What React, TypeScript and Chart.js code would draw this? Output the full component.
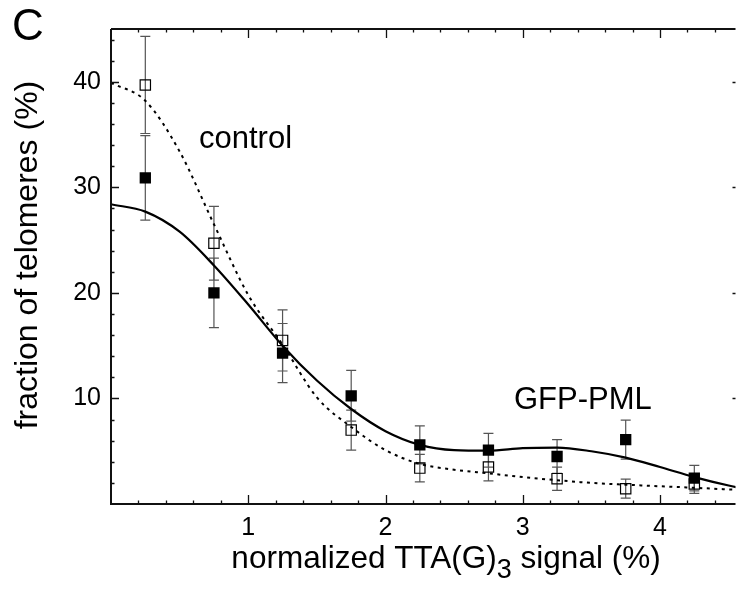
import React, { useEffect, useRef } from 'react';
import { Chart, registerables } from 'chart.js';

Chart.register(...registerables);

// ---- data ----
const binCenters = [0.25, 0.75, 1.25, 1.75, 2.25, 2.75, 3.25, 3.75, 4.25];
const gfpValues = [30.9, 20.0, 14.3, 10.25, 5.6, 5.1, 4.5, 6.1, 2.45];
const gfpErrors = [4.0, 3.3, 2.8, 2.4, 1.8, 1.6, 1.6, 1.85, 1.2];
const controlValues = [39.7, 24.7, 15.5, 7.0, 3.4, 3.5, 2.4, 1.45, 1.9];
const controlErrors = [4.6, 3.5, 2.9, 1.9, 1.3, 1.3, 1.1, 0.9, 0.9];

const fitX = [0, 0.25, 0.5, 0.75, 1, 1.25, 1.5, 1.75, 2, 2.25, 2.5, 2.75, 3, 3.25, 3.5, 3.75, 4, 4.25, 4.5, 4.75];
const gfpFit = [28.4, 27.7, 25.8, 22.6, 18.9, 15.0, 11.7, 9.0, 6.9, 5.6, 5.1, 5.05, 5.3, 5.35, 5.0, 4.4, 3.5, 2.55, 1.75, 1.1];
const controlFit = [39.9, 38.2, 33.4, 26.5, 19.8, 15.1, 10.1, 7.3, 5.1, 3.8, 3.25, 2.9, 2.55, 2.25, 2.0, 1.83, 1.68, 1.54, 1.38, 1.25];

const xTickLabels = ['1', '2', '3', '4'];
const yTickLabels = ['10', '20', '30', '40'];

const FONT = '"Liberation Sans", Arial, Helvetica, sans-serif';

export default function App() {
  const ref = useRef<HTMLCanvasElement>(null);

  useEffect(() => {
    document.body.style.margin = '0';
    const canvas = ref.current;
    if (!canvas) return;

    const errorBars = {
      id: 'errorBars',
      beforeDatasetsDraw(chart: any) {
        const { ctx, scales } = chart;
        const x = scales.x;
        const y = scales.y;
        ctx.save();
        ctx.strokeStyle = '#555';
        ctx.lineWidth = 1.2;
        const draw = (vals: number[], errs: number[]) => {
          vals.forEach((v, i) => {
            const px = x.getPixelForValue(binCenters[i]);
            const y1 = y.getPixelForValue(v + errs[i]);
            const y2 = y.getPixelForValue(v - errs[i]);
            ctx.beginPath();
            ctx.moveTo(px, y1);
            ctx.lineTo(px, y2);
            ctx.moveTo(px - 5, y1);
            ctx.lineTo(px + 5, y1);
            ctx.moveTo(px - 5, y2);
            ctx.lineTo(px + 5, y2);
            ctx.stroke();
          });
        };
        draw(controlValues, controlErrors);
        draw(gfpValues, gfpErrors);
        ctx.restore();
      },
    };

    const frame = {
      id: 'frame',
      afterDraw(chart: any) {
        const { ctx, chartArea, scales } = chart;
        const { left, right, top, bottom } = chartArea;
        const x = scales.x;
        const y = scales.y;
        ctx.save();
        ctx.strokeStyle = '#111';
        ctx.lineWidth = 2;
        ctx.beginPath();
        ctx.moveTo(left, top);
        ctx.lineTo(left, bottom);
        ctx.lineTo(right, bottom);
        ctx.moveTo(left, top);
        ctx.lineTo(right, top);
        ctx.stroke();

        ctx.lineWidth = 1.3;
        ctx.beginPath();
        for (let k = 1; k <= 22; k++) {
          const v = k * 0.2;
          if (v > x.max) break;
          const major = Math.abs(v - Math.round(v)) < 1e-6;
          const len = major ? 9 : 3.5;
          const px = Math.round(x.getPixelForValue(v)) + 0.5;
          ctx.moveTo(px, bottom);
          ctx.lineTo(px, bottom - len);
          ctx.moveTo(px, top);
          ctx.lineTo(px, top + len);
        }
        for (let v = 2; v < y.max; v += 2) {
          const major = v % 10 === 0;
          const len = major ? 8 : 3.5;
          const py = Math.round(y.getPixelForValue(v)) + 0.5;
          ctx.moveTo(left, py);
          ctx.lineTo(left + len, py);
          if (major) {
            ctx.moveTo(right, py);
            ctx.lineTo(right - 3, py);
          }
        }
        ctx.stroke();

        ctx.fillStyle = '#000';
        ctx.textBaseline = 'alphabetic';
        ctx.textAlign = 'left';
        ctx.font = `44px ${FONT}`;
        ctx.fillText('C', 12, 40);
        ctx.font = `31px ${FONT}`;
        ctx.fillText('control', 199, 148);
        ctx.fillText('GFP-PML', 514, 409);

        // x title with subscript
        const part1 = 'normalized TTA(G)';
        const part2 = '3';
        const part3 = ' signal (%)';
        ctx.font = `31.5px ${FONT}`;
        const w1 = ctx.measureText(part1).width;
        const w3 = ctx.measureText(part3).width;
        ctx.font = `27px ${FONT}`;
        const w2 = ctx.measureText(part2).width;
        const total = w1 + w2 + w3;
        let sx = 446 - total / 2;
        ctx.font = `31.5px ${FONT}`;
        ctx.fillText(part1, sx, 568);
        sx += w1;
        ctx.font = `27px ${FONT}`;
        ctx.fillText(part2, sx, 578);
        sx += w2;
        ctx.font = `31.5px ${FONT}`;
        ctx.fillText(part3, sx, 568);

        // y title
        ctx.translate(37, 255);
        ctx.rotate(-Math.PI / 2);
        ctx.textAlign = 'center';
        ctx.font = `32px ${FONT}`;
        ctx.fillText('fraction of telomeres (%)', 0, 0);
        ctx.restore();
      },
    };

    const chart = new Chart(canvas, {
      type: 'scatter',
      data: {
        datasets: [
          {
            label: 'GFP-PML',
            data: binCenters.map((v, i) => ({ x: v, y: gfpValues[i] })),
            pointStyle: 'rect',
            pointRadius: 8,
            backgroundColor: '#000',
            borderColor: '#000',
            borderWidth: 0,
            showLine: false,
            order: 0,
          },
          {
            label: 'control',
            data: binCenters.map((v, i) => ({ x: v, y: controlValues[i] })),
            pointStyle: 'rect',
            pointRadius: 7.3,
            backgroundColor: 'rgba(0,0,0,0)',
            borderColor: '#000',
            borderWidth: 1.2,
            showLine: false,
            order: 0,
          },
          {
            label: 'GFP-PML fit',
            type: 'line',
            data: fitX.map((v, i) => ({ x: v, y: gfpFit[i] })),
            borderColor: '#000',
            borderWidth: 2.2,
            pointRadius: 0,
            cubicInterpolationMode: 'monotone',
            fill: false,
            order: 1,
          },
          {
            label: 'control fit',
            type: 'line',
            data: fitX.map((v, i) => ({ x: v, y: controlFit[i] })),
            borderColor: '#000',
            borderWidth: 2,
            borderDash: [3, 4.5],
            pointRadius: 0,
            cubicInterpolationMode: 'monotone',
            fill: false,
            order: 1,
          },
        ],
      } as any,
      options: {
        responsive: false,
        animation: false,
        layout: { padding: { top: 29, right: 0, left: 0, bottom: 0 } },
        plugins: {
          legend: { display: false },
          tooltip: { enabled: false },
        },
        scales: {
          x: {
            type: 'linear',
            min: 0,
            max: 4.55,
            grid: { display: false, drawTicks: false },
            border: { display: false },
            ticks: {
              stepSize: 1,
              includeBounds: false,
              padding: 9,
              color: '#000',
              font: { family: FONT, size: 25 },
              maxRotation: 0,
              callback: (v: any) => {
                const idx = Math.round(Number(v)) - 1;
                return Number.isInteger(Number(v)) && idx >= 0 && idx < xTickLabels.length ? xTickLabels[idx] : '';
              },
            },
            afterFit: (s: any) => {
              s.height = 87;
            },
          },
          y: {
            type: 'linear',
            min: 0,
            max: 45,
            grid: { display: false, drawTicks: false },
            border: { display: false },
            ticks: {
              stepSize: 10,
              includeBounds: false,
              padding: 10,
              color: '#000',
              font: { family: FONT, size: 25 },
              callback: (v: any) => {
                const idx = Math.round(Number(v) / 10) - 1;
                return idx >= 0 && idx < yTickLabels.length ? yTickLabels[idx] : '';
              },
            },
            afterFit: (s: any) => {
              s.width = 111;
            },
          },
        },
      } as any,
      plugins: [errorBars, frame],
    });

    return () => chart.destroy();
  }, []);

  return (
    <div style={{ width: 744, height: 591, position: 'relative', background: '#fff' }}>
      <canvas ref={ref} width={744} height={591} style={{ display: 'block' }} />
    </div>
  );
}
